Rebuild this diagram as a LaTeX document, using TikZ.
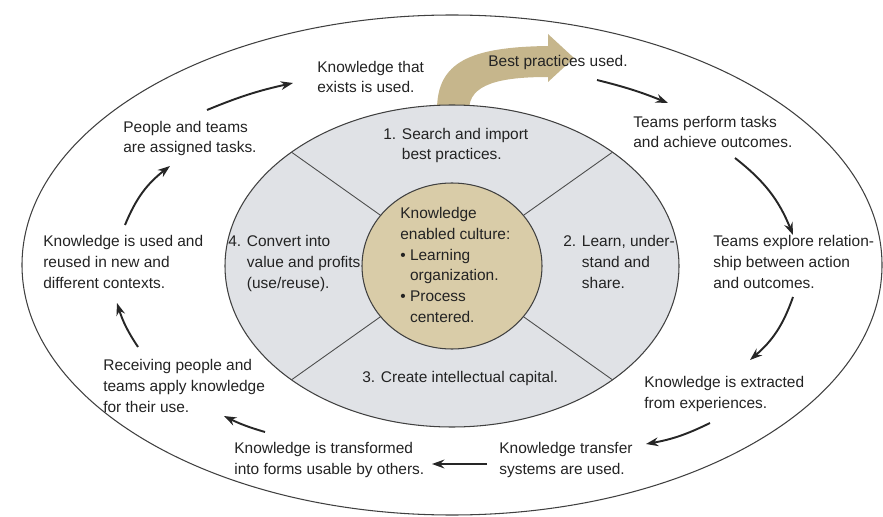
\documentclass[tikz,border=0pt]{standalone}
\usepackage{fontspec}
\setmainfont{Liberation Sans}
\usetikzlibrary{arrows.meta}

\definecolor{innengrau}{RGB}{224,226,230}
\definecolor{kernbeige}{RGB}{217,204,168}
\definecolor{pfeilbeige}{RGB}{198,182,140}
\definecolor{schrift}{RGB}{35,35,35}

\tikzset{
  txt/.style={anchor=base west, align=left, inner sep=0pt, text=schrift,
    font=\fontsize{8.8}{11.75}\selectfont},
  kreis/.style={draw=black!75, line width=0.6pt},
  pfeil/.style={-{Stealth[length=7pt,width=5pt]}, line width=1.1pt, draw=black!85},
}

\begin{document}
\begin{tikzpicture}[x=0.02cm, y=-0.02cm]
    \useasboundingbox (0,0) rectangle (883,517);
    % aeussere Ellipse:
    \draw[kreis] (452,265) ellipse [x radius=430, y radius=250];
    % breiter Pfeil oben:
    \fill[pfeilbeige] (437,110) .. controls (437,62) and (470,47) .. (548,46)
        -- (548,34) -- (574,58) -- (548,82) -- (548,77)
        .. controls (500,77) and (469,84) .. (469,110) -- cycle;
    % innere Ellipse mit vier Feldern:
    \draw[kreis, fill=innengrau] (452,266) ellipse [x radius=227, y radius=161];
    \foreach \w in {45,135,225,315}
        \draw[black!70, line width=0.5pt] (452,266) -- ++(\w:227 and 161); % Trennlinie
    % Kern:
    \draw[kreis, fill=kernbeige] (452,266) ellipse [x radius=90, y radius=83];

    % Texte im Ring (Anker = Grundlinie der letzten Zeile):
    \node[txt] (vorhanden) at (317,93) {Knowledge that\\exists is used.};
    \node[txt] (best) at (488,67) {Best practices used.};
    \node[txt] (perform) at (633,148) {Teams perform tasks\\and achieve outcomes.};
    \node[txt] (explore) at (713,288) {Teams explore relation-\\ship between action\\and outcomes.};
    \node[txt] (extrahiert) at (644,408) {Knowledge is extracted\\from experiences.};
    \node[txt] (transfer) at (499,474) {Knowledge transfer\\systems are used.};
    \node[txt] (transform) at (234,474) {Knowledge is transformed\\into forms usable by others.};
    \node[txt] (empfang) at (103,412) {Receiving people and\\teams apply knowledge\\for their use.};
    \node[txt] (wiederverw) at (43,288) {Knowledge is used and\\reused in new and\\different contexts.};
    \node[txt] (teams) at (123,153) {People and teams\\are assigned tasks.};

    % Felder der inneren Ellipse:
    \node[txt] (feld1) at (383,160) {1. Search and import\\\hphantom{1. }best practices.};
    \node[txt] (feld2) at (563,288) {2. Learn, under-\\\hphantom{2. }stand and\\\hphantom{2. }share.};
    \node[txt] (feld3) at (362,382) {3. Create intellectual capital.};
    \node[txt] (feld4) at (228,288) {4. Convert into\\\hphantom{4. }value and profits\\\hphantom{4. }(use/reuse).};
    \node[txt] (kern) at (400,322) {Knowledge\\enabled culture:\\\textbullet\ Learning\\\hphantom{\textbullet\ }organization.\\\textbullet\ Process\\\hphantom{\textbullet\ }centered.};

    % Pfeilenden:
    \coordinate (p1a) at (125,225); \coordinate (p1b) at (170,166);
    \coordinate (p2a) at (207,110); \coordinate (p2b) at (293,83);
    \coordinate (p3a) at (597,80);  \coordinate (p3b) at (668,103);
    \coordinate (p4a) at (735,158); \coordinate (p4b) at (793,235);
    \coordinate (p5a) at (793,297); \coordinate (p5b) at (750,360);
    \coordinate (p6a) at (710,423); \coordinate (p6b) at (646,444);
    \coordinate (p7a) at (487,464); \coordinate (p7b) at (432,464);
    \coordinate (p8a) at (265,432); \coordinate (p8b) at (224,416);
    \coordinate (p9a) at (138,347); \coordinate (p9b) at (117,303);

    % Pfeile im Uhrzeigersinn:
    \draw[pfeil] (p1a) to[bend left=15] (p1b);
    \draw[pfeil] (p2a) to[bend left=5] (p2b);
    \draw[pfeil] (p3a) to[bend left=4] (p3b);
    \draw[pfeil] (p4a) to[bend left=15] (p4b);
    \draw[pfeil] (p5a) to[bend left=15] (p5b);
    \draw[pfeil] (p6a) to[bend left=8] (p6b);
    \draw[pfeil] (p7a) -- (p7b);
    \draw[pfeil] (p8a) to[bend left=5] (p8b);
    \draw[pfeil] (p9a) to[bend left=8] (p9b);
\end{tikzpicture}
\end{document}
